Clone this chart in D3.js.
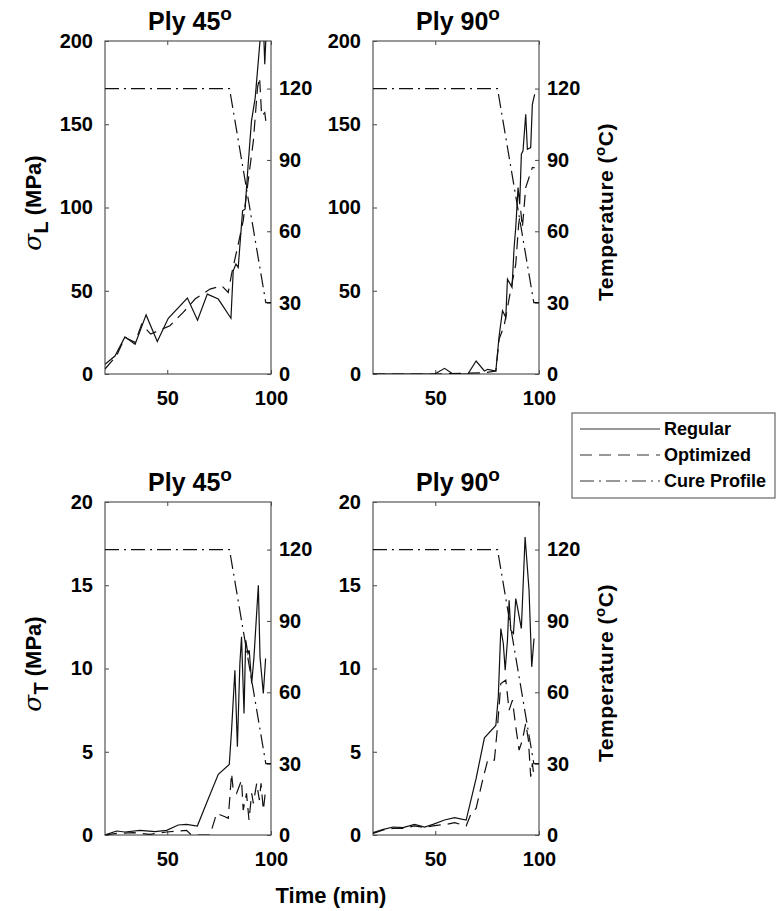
<!DOCTYPE html>
<html>
<head>
<meta charset="utf-8">
<script src="https://cdn.jsdelivr.net/npm/d3@7"></script>
<style>
  body { margin: 0; background: #fff; }
  text { font-family: "Liberation Sans", Arial, sans-serif; font-weight: bold; fill: #000; }
</style>
</head>
<body>
<script>
// axis ticks
var timeTicks = [50, 100];
var sigmaLTicks = [0, 50, 100, 150, 200];
var sigmaTTicks = [0, 5, 10, 15, 20];
var tempTicks = [0, 30, 60, 90, 120];

// cure profile (time, temperature)
var cureProfile = [[20, 120], [80, 120], [97.5, 30], [100, 30]];

// sigma L, ply 45
var sigL45Regular = [[20, 5.8], [24.8, 10.8], [29.6, 22.3], [34.5, 17.9], [39.8, 35.5], [45.2, 19.5],
  [50.5, 33.5], [59.7, 45.6], [64.6, 32.3], [69.3, 48], [74.6, 45], [80.7, 33.5], [81.8, 62],
  [83.1, 66], [84.2, 64], [86.3, 98], [87.5, 99], [89, 126], [90.6, 152], [92.4, 166],
  [94.7, 200], [95.5, 240], [97, 186], [98.5, 230]];
var sigL45Optimized = [[20, 3], [25.6, 11], [29.6, 22], [34.5, 19], [37.7, 30], [42, 24],
  [51.3, 29], [57.7, 37], [63.4, 45], [70.6, 51], [76.2, 53], [79.4, 49], [81, 60],
  [84.2, 78], [86.6, 92], [89, 116], [91.5, 140], [93.5, 172], [94.5, 178], [95.5, 155],
  [97, 157], [97.5, 152]];

// sigma L, ply 90
var sigL90Regular = [[20, 0], [49.7, 0], [54.5, 3.4], [58.5, 0], [65.7, 0], [69.7, 7.8],
  [73.7, 1.8], [75.3, 2.8], [79.2, 1.8], [80.8, 23], [82.4, 38], [84, 34], [84.8, 57],
  [87, 52], [88, 76], [88.8, 88], [89.9, 112], [90.7, 102], [91.5, 132], [92.3, 134],
  [93.6, 156], [94.4, 135], [96, 136], [96.8, 162], [97.9, 168]];
var sigL90Optimized = [[20, 0], [49.7, 0], [73.7, 0.8], [79.2, 1.8], [80.8, 21], [83.2, 29],
  [86, 48], [88.8, 66], [90.2, 90], [91.2, 98], [92, 88], [93.6, 112], [95.2, 118],
  [96.8, 124], [97.9, 124]];

// sigma T, ply 45
var sigT45Regular = [[20, 0], [25.6, 0.24], [29.6, 0.18], [36.9, 0.28], [44.1, 0.2], [49.7, 0.28],
  [55.3, 0.6], [59.3, 0.64], [64.5, 0.54], [69, 1.94], [74.6, 3.64], [79.9, 4.24], [81, 6.3],
  [82.6, 9.9], [83.8, 5.3], [85, 10.3], [85.8, 11.9], [87, 7.3], [87.8, 11.7], [88.9, 10.9],
  [89.5, 11.1], [90.7, 9.1], [91.8, 10.7], [93.9, 15], [94.7, 10.7], [96.3, 8.5], [97.4, 10.6]];
var sigT45Optimized = [[20, 0], [25.6, 0.1], [33.7, 0.14], [41.7, 0.04], [49.7, 0.18],
  [56, 0.24], [59.3, 0.28], [61.7, 0], [70.6, 0], [73.8, 1.3], [77.8, 1.1], [79.4, 1],
  [81, 3.7], [81.8, 2.7], [83.4, 2.5], [85.8, 3.3], [86.6, 1.5], [88.2, 2.5], [89.4, 0.9],
  [90.7, 2.5], [91.5, 1.9], [93.1, 3.1], [94.4, 2.1], [95.2, 3.1], [96.3, 1.5], [97.4, 2.7]];

// sigma T, ply 90
var sigT90Regular = [[20, 0.14], [25, 0.34], [29.7, 0.48], [34.5, 0.44], [40, 0.64], [44.9, 0.48],
  [48.9, 0.64], [54.5, 0.9], [59.3, 1.04], [64.9, 0.9], [69.7, 3.4], [73.7, 5.84], [79.2, 6.58],
  [80.4, 8.34], [81.6, 12.4], [82.8, 11.5], [83.7, 9.9], [84.8, 11.7], [85.6, 14.1],
  [86.4, 12.3], [87.7, 12.1], [88.8, 14.2], [89.6, 13.7], [91.5, 12.4], [93.3, 17.9],
  [95.2, 14.7], [96.5, 10.1], [97.6, 11.8]];
var sigT90Optimized = [[20, 0.1], [25, 0.3], [29.7, 0.4], [34.5, 0.4], [40, 0.55], [44.9, 0.45],
  [48.9, 0.55], [55.3, 0.64], [59.3, 0.74], [64.9, 0.54], [67.3, 1.3], [69.7, 1.6],
  [72.9, 3.34], [75.3, 4.5], [78.5, 4.5], [80, 6.5], [81.6, 9.1], [84, 9.3], [85.6, 7.5],
  [87.2, 8.1], [88.8, 6.5], [90.4, 5.1], [92, 5.7], [93.6, 6.7], [94.9, 5.7], [96, 3.5],
  [96.8, 4.3], [97.6, 3.5]];

var W = 777, H = 911;
var pw = 166, ph = 333;
var colX = [105, 373];
var rowY = [41, 502];

var svg = d3.select('body').append('svg')
  .attr('width', W)
  .attr('height', H);

var panels = [
  {col: 0, row: 0, ply: '45', yMax: 200, yTicks: sigmaLTicks, reg: sigL45Regular, opt: sigL45Optimized},
  {col: 1, row: 0, ply: '90', yMax: 200, yTicks: sigmaLTicks, reg: sigL90Regular, opt: sigL90Optimized},
  {col: 0, row: 1, ply: '45', yMax: 20, yTicks: sigmaTTicks, reg: sigT45Regular, opt: sigT45Optimized},
  {col: 1, row: 1, ply: '90', yMax: 20, yTicks: sigmaTTicks, reg: sigT90Regular, opt: sigT90Optimized}
];

var x = d3.scaleLinear().domain([20, 100]).range([0, pw]);
var yT = d3.scaleLinear().domain([0, 140]).range([ph, 0]);

var CURE_DASH = '14,5,2,5';
var OPT_DASH = '12,7';

panels.forEach(function (p, i) {
  var g = svg.append('g')
    .attr('transform', 'translate(' + colX[p.col] + ',' + rowY[p.row] + ')');
  var y = d3.scaleLinear().domain([0, p.yMax]).range([ph, 0]);

  g.append('clipPath').attr('id', 'clip' + i)
    .append('rect').attr('width', pw).attr('height', ph);

  // axes, ticks pointing in like matlab
  var left = g.append('g').call(d3.axisLeft(y).tickValues(p.yTicks).tickSizeInner(-4).tickSizeOuter(0).tickPadding(12));
  var right = g.append('g').attr('transform', 'translate(' + pw + ',0)')
    .call(d3.axisRight(yT).tickValues(tempTicks).tickSizeInner(-4).tickSizeOuter(0).tickPadding(8));
  var bottom = g.append('g').attr('transform', 'translate(0,' + ph + ')')
    .call(d3.axisBottom(x).tickValues(timeTicks).tickSizeInner(-4).tickSizeOuter(0).tickPadding(17));
  var top = g.append('g')
    .call(d3.axisTop(x).tickValues(timeTicks).tickSizeInner(-4).tickSizeOuter(0).tickFormat(''));

  [left, right, bottom, top].forEach(function (a) {
    a.selectAll('.domain').remove();
    a.selectAll('line').attr('stroke', '#444');
    a.selectAll('text').style('font-size', '20px').style('font-family', '"Liberation Sans", Arial, sans-serif')
      .style('font-weight', 'bold').attr('fill', '#111');
  });
  bottom.selectAll('text').attr('dy', '0.71em');

  g.append('rect')
    .attr('width', pw).attr('height', ph)
    .attr('fill', 'none').attr('stroke', '#555').attr('stroke-width', 1.2);

  var lines = g.append('g').attr('clip-path', 'url(#clip' + i + ')');
  var line = d3.line().x(function (d) { return x(d[0]); }).y(function (d) { return y(d[1]); });
  var lineT = d3.line().x(function (d) { return x(d[0]); }).y(function (d) { return yT(d[1]); });

  lines.append('path').datum(cureProfile).attr('d', lineT)
    .attr('fill', 'none').attr('stroke', '#111').attr('stroke-width', 1.2)
    .attr('stroke-dasharray', CURE_DASH);
  lines.append('path').datum(p.opt).attr('d', line)
    .attr('fill', 'none').attr('stroke', '#111').attr('stroke-width', 1.2)
    .attr('stroke-dasharray', OPT_DASH);
  lines.append('path').datum(p.reg).attr('d', line)
    .attr('fill', 'none').attr('stroke', '#111').attr('stroke-width', 1.2);

  // title with superscript degree 'o'
  var t = g.append('text')
    .attr('x', pw / 2 + 2).attr('y', -11)
    .attr('text-anchor', 'middle')
    .style('font-size', '25px');
  t.append('tspan').text('Ply ' + p.ply);
  t.append('tspan').attr('dy', -10).style('font-size', '19px').text('o');
});

// left y labels
function sigmaLabel(cx, cy, sub) {
  var t = svg.append('text')
    .attr('transform', 'translate(' + cx + ',' + cy + ') rotate(-90)')
    .attr('text-anchor', 'middle')
    .style('font-size', '22px');
  t.append('tspan').style('font-style', 'italic').style('font-family', '"DejaVu Serif", serif')
    .style('font-weight', 'normal').style('font-size', '25px').text('σ');
  t.append('tspan').attr('dy', 7).style('font-size', '20px').text(sub);
  t.append('tspan').attr('dy', -7).text(' (MPa)');
}
sigmaLabel(41, 203, 'L');
sigmaLabel(41, 664, 'T');

function tempLabel(cx, cy) {
  var t = svg.append('text')
    .attr('transform', 'translate(' + cx + ',' + cy + ') rotate(-90)')
    .attr('text-anchor', 'middle')
    .style('font-size', '21px')
    .style('letter-spacing', '0.5px');
  t.append('tspan').text('Temperature (');
  t.append('tspan').attr('dy', -8).style('font-size', '15px').text('o');
  t.append('tspan').attr('dy', 8).text('C)');
}
tempLabel(613, 212);
tempLabel(613, 673);

svg.append('text')
  .attr('x', 331).attr('y', 903)
  .attr('text-anchor', 'middle')
  .style('font-size', '22px')
  .text('Time (min)');

// legend
var legendItems = [
  {name: 'Regular', dash: null},
  {name: 'Optimized', dash: OPT_DASH},
  {name: 'Cure Profile', dash: CURE_DASH}
];
var lg = svg.append('g').attr('transform', 'translate(572,413)');
lg.append('rect').attr('width', 203).attr('height', 85)
  .attr('fill', '#fff').attr('stroke', '#666').attr('stroke-width', 1.2);
legendItems.forEach(function (d, i) {
  var yy = 16 + i * 26;
  lg.append('line').attr('x1', 8).attr('x2', 88).attr('y1', yy).attr('y2', yy)
    .attr('stroke', '#333').attr('stroke-width', 1.2)
    .attr('stroke-dasharray', d.dash);
  lg.append('text').attr('x', 92).attr('y', yy + 6)
    .style('font-size', '18px').text(d.name);
});
</script>
</body>
</html>
